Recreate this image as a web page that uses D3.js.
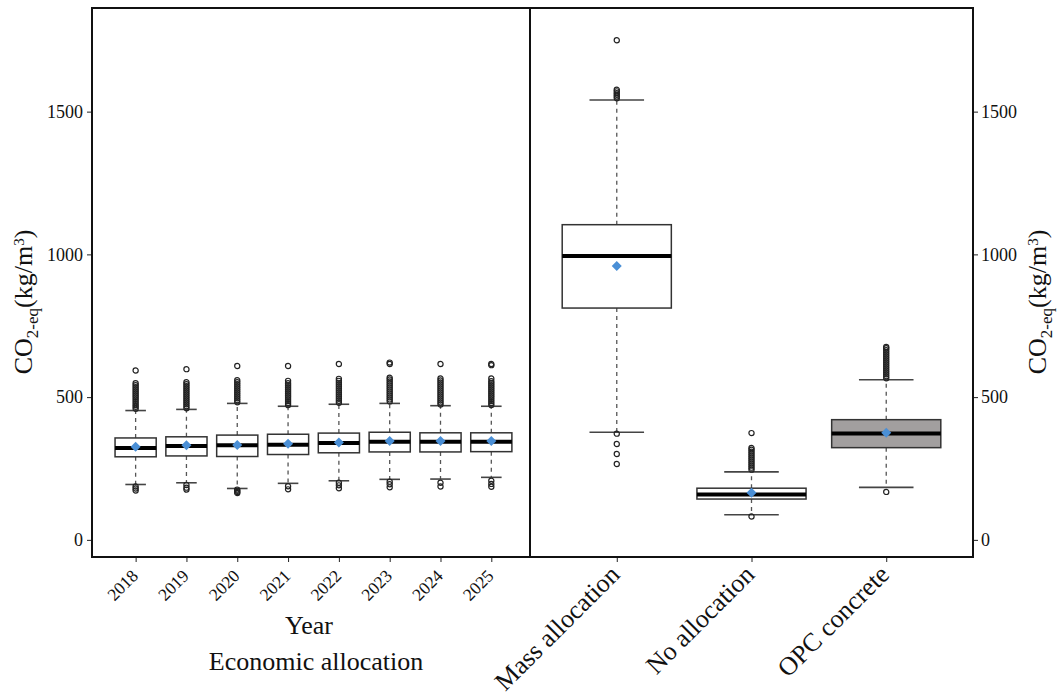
<!DOCTYPE html>
<html>
<head>
<meta charset="utf-8">
<script src="https://cdn.jsdelivr.net/npm/d3@7"></script>
<style>
 body { margin: 0; background: #fff; }
 text { font-family: "Liberation Serif", "DejaVu Serif", serif; }
</style>
</head>
<body>
<div id="chart"></div>
<script>
/*************
Sample Data
**************/
var years = ["2018", "2019", "2020", "2021", "2022", "2023", "2024", "2025"];
var yearQ1 = [291, 294, 292, 299, 305, 308, 308, 309];
var yearMedian = [322, 329, 331, 333, 339, 344, 344, 344];
var yearQ3 = [357, 361, 367, 370, 374, 377, 375, 375];
var yearLow = [194, 200, 180, 198, 207, 212, 213, 219];
var yearHigh = [453, 457, 478, 468, 475, 478, 470, 468];
var yearMean = [326, 331, 332, 337, 341, 346, 346, 346];
var yearOutliers = [
 [459, 466, 472, 479, 486, 493, 500, 507, 514, 521, 528, 535, 542, 549, 593, 187, 180, 173],
 [461, 468, 475, 482, 489, 496, 503, 510, 517, 524, 531, 538, 545, 552, 598, 192, 183, 176],
 [482, 489, 496, 503, 510, 517, 524, 531, 538, 545, 552, 559, 609, 176, 172, 168, 164],
 [472, 479, 486, 493, 500, 507, 514, 521, 528, 535, 542, 549, 557, 609, 188, 177],
 [480, 487, 494, 501, 508, 515, 522, 529, 536, 543, 550, 557, 564, 616, 200, 191, 181],
 [485, 492, 499, 506, 513, 520, 527, 534, 541, 548, 555, 562, 568, 616, 621, 204, 195, 184],
 [474, 481, 488, 495, 502, 509, 516, 523, 530, 537, 544, 551, 558, 565, 616, 200, 187],
 [472, 479, 486, 493, 500, 507, 514, 521, 528, 535, 542, 549, 556, 565, 612, 616, 207, 196, 186]
];

var cases = ["Mass allocation", "No allocation", "OPC concrete"];
var caseQ1 = [812, 143, 323];
var caseMedian = [994, 159, 373];
var caseQ3 = [1104, 181, 421];
var caseLow = [377, 88, 184];
var caseHigh = [1541, 238, 561];
var caseMean = [959, 165, 375];
var caseFill = ["#ffffff", "#ffffff", "#a29f9f"];
var caseOutliers = [
 [1547, 1553, 1559, 1565, 1571, 1577, 1750, 372, 336, 301, 266],
 [246, 253, 260, 267, 274, 281, 288, 295, 302, 309, 316, 322, 374, 82],
 [566, 573, 580, 587, 594, 601, 608, 615, 622, 629, 636, 643, 650, 657, 664, 671, 676, 168]
];

var yTicks = [0, 500, 1000, 1500];

/*************
Params
**************/
var width = 1058, height = 697;
var plotTop = 8, plotBottom = 557;
var leftX = 92, midX = 530, rightX = 973;
var meanColor = "#4a8fd6";

var y = d3.scaleLinear().domain([-60, 1863]).range([plotBottom, plotTop]);

var xYear = d3.scalePoint().domain(years)
 .range([leftX, midX]).padding(0.81).align(0.53);
var xCase = d3.scalePoint().domain(cases)
 .range([midX, rightX]).padding(0.644).align(0.5);

var svg = d3.select("#chart")
 .append("svg")
 .attr("width", width)
 .attr("height", height);

/*************
Boxes
**************/
function drawBoxes(g, x, cats, q1, med, q3, lo, hi, mean, outl, fills) {
 var bw = x.step() * 0.81;
 var rows = cats.map((c, i) => ({ c: c, q1: q1[i], med: med[i], q3: q3[i], lo: lo[i], hi: hi[i], mean: mean[i], out: outl[i], fill: fills ? fills[i] : "#fff" }));
 var box = g.selectAll("g.box")
  .data(rows)
  .enter().append("g")
  .attr("class", "box")
  .attr("transform", d => "translate(" + x(d.c) + ",0)");

 // whiskers
 box.append("line")
  .attr("y1", d => y(d.q3)).attr("y2", d => y(d.hi))
  .attr("stroke", "#555").attr("stroke-width", 1.3).attr("stroke-dasharray", "4,4");
 box.append("line")
  .attr("y1", d => y(d.q1)).attr("y2", d => y(d.lo))
  .attr("stroke", "#555").attr("stroke-width", 1.3).attr("stroke-dasharray", "4,4");
 box.append("line")
  .attr("x1", -bw / 4).attr("x2", bw / 4)
  .attr("y1", d => y(d.hi)).attr("y2", d => y(d.hi))
  .attr("stroke", "#444").attr("stroke-width", 1.6);
 box.append("line")
  .attr("x1", -bw / 4).attr("x2", bw / 4)
  .attr("y1", d => y(d.lo)).attr("y2", d => y(d.lo))
  .attr("stroke", "#444").attr("stroke-width", 1.6);

 box.append("rect")
  .attr("x", -bw / 2).attr("width", bw)
  .attr("y", d => y(d.q3)).attr("height", d => y(d.q1) - y(d.q3))
  .attr("fill", d => d.fill)
  .attr("stroke", "#333").attr("stroke-width", 1.5);

 box.append("line")
  .attr("x1", -bw / 2).attr("x2", bw / 2)
  .attr("y1", d => y(d.med)).attr("y2", d => y(d.med))
  .attr("stroke", "#000").attr("stroke-width", 4);

 box.selectAll("circle")
  .data(d => d.out)
  .enter().append("circle")
  .attr("cx", 0)
  .attr("cy", d => y(d))
  .attr("r", 2.6)
  .attr("fill", "none")
  .attr("stroke", "#222")
  .attr("stroke-width", 1.2);

 box.append("path")
  .attr("d", d3.symbol(d3.symbolSquare, 50))
  .attr("transform", d => "translate(0," + y(d.mean) + ") rotate(45)")
  .attr("fill", meanColor);
}

drawBoxes(svg.append("g"), xYear, years, yearQ1, yearMedian, yearQ3, yearLow, yearHigh, yearMean, yearOutliers, null);
drawBoxes(svg.append("g"), xCase, cases, caseQ1, caseMedian, caseQ3, caseLow, caseHigh, caseMean, caseOutliers, caseFill);

/*************
Axes
**************/
function styleAxis(g) {
 g.select(".domain").remove();
 g.selectAll(".tick line").attr("stroke", "#222").attr("stroke-width", 1);
 g.selectAll(".tick text").attr("fill", "#111").style("font-size", "18px").style("font-family", "Liberation Serif");
}

svg.append("g")
 .attr("transform", "translate(" + leftX + ",0)")
 .call(d3.axisLeft(y).tickValues(yTicks).tickFormat(d3.format("d")).tickSize(5).tickPadding(4))
 .call(styleAxis);

svg.append("g")
 .attr("transform", "translate(" + rightX + ",0)")
 .call(d3.axisRight(y).tickValues(yTicks).tickFormat(d3.format("d")).tickSize(5).tickPadding(3))
 .call(styleAxis);

var gxYear = svg.append("g")
 .attr("transform", "translate(0," + plotBottom + ")")
 .call(d3.axisBottom(xYear).tickSize(5))
 .call(styleAxis);
gxYear.selectAll(".tick text")
 .style("font-size", "17.5px")
 .attr("text-anchor", "end")
 .attr("y", 0).attr("dy", 0)
 .attr("transform", "translate(3,20) rotate(-45)");

var gxCase = svg.append("g")
 .attr("transform", "translate(0," + plotBottom + ")")
 .call(d3.axisBottom(xCase).tickSize(5))
 .call(styleAxis);
gxCase.selectAll(".tick text")
 .style("font-size", "26px")
 .attr("text-anchor", "end")
 .attr("y", 0).attr("dy", 0)
 .attr("transform", "translate(4,19) rotate(-45)");

/*************
Frame
**************/
svg.append("rect")
 .attr("x", leftX).attr("y", plotTop)
 .attr("width", rightX - leftX).attr("height", plotBottom - plotTop)
 .attr("fill", "none").attr("stroke", "#111").attr("stroke-width", 2);
svg.append("line")
 .attr("x1", midX).attr("x2", midX).attr("y1", plotTop).attr("y2", plotBottom)
 .attr("stroke", "#111").attr("stroke-width", 2);

/*************
Labels
**************/
function yLabel(x) {
 var t = svg.append("text")
  .attr("transform", "translate(" + x + ",302) rotate(-90)")
  .attr("text-anchor", "middle")
  .style("font-size", "26px")
  .attr("fill", "#111");
 t.append("tspan").text("CO");
 t.append("tspan").attr("dy", 6).style("font-size", "17px").text("2-eq");
 t.append("tspan").attr("dy", -6).text("(kg/m");
 t.append("tspan").attr("dy", -8).style("font-size", "15px").text("3");
 t.append("tspan").attr("dy", 8).text(")");
}
yLabel(32);
yLabel(1046);

svg.append("text")
 .attr("x", 309).attr("y", 634)
 .attr("text-anchor", "middle")
 .style("font-size", "26px")
 .attr("fill", "#111")
 .text("Year");

svg.append("text")
 .attr("x", 316).attr("y", 670)
 .attr("text-anchor", "middle")
 .style("font-size", "26px")
 .attr("fill", "#111")
 .text("Economic allocation");
</script>
</body>
</html>
